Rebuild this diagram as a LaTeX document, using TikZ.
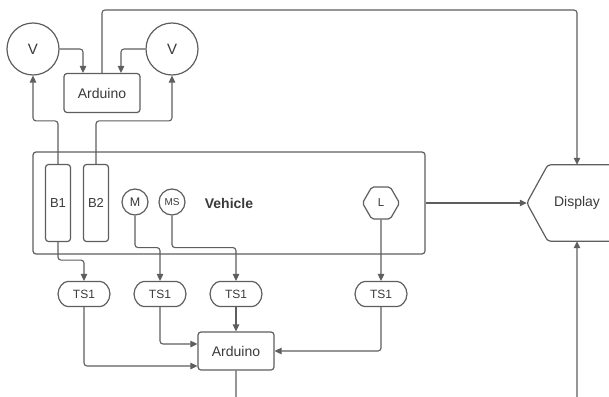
\documentclass[tikz,border=0pt]{standalone}
\usepackage{fontspec}
\setmainfont{Liberation Sans}
\usepackage{xcolor}
\usetikzlibrary{arrows.meta,positioning,shapes.geometric,shapes.misc}
\definecolor{cLine}{HTML}{5E5E5E}
\definecolor{cInk}{HTML}{3A3A3A}
\tikzset{
  edge/.style={draw=cLine,line width=1.2pt,rounded corners=3pt},
  blk/.style={edge,fill=white,text=cInk,align=center,inner sep=0pt,font=\fontsize{14}{16}\selectfont},
  batt/.style={blk,minimum width=25,minimum height=77,font=\fontsize{13}{15}\selectfont},
  meter/.style={edge,circle,fill=white,text=cInk,inner sep=0pt,minimum size=52,font=\fontsize{15}{17}\selectfont},
  lamp/.style={edge,regular polygon,regular polygon sides=6,rounded corners=2pt,text=cInk,inner sep=0pt,minimum size=37,font=\fontsize{11.5}{13}\selectfont},
  sens/.style={edge,rounded rectangle,text=cInk,inner sep=0pt,minimum width=52,minimum height=25,font=\fontsize{12}{14}\selectfont},
  disp/.style={text=cInk,inner sep=0pt,minimum width=100,minimum height=76,font=\fontsize{14}{16}\selectfont},
  arr/.style={-{Triangle[length=7pt,width=6.5pt]},draw=cLine,line width=1.1pt,rounded corners=3pt},
}

\begin{document}
\begin{tikzpicture}[x=1pt,y=-1pt]
  \useasboundingbox (0,0) rectangle (609,396);
  % meters and upper Arduino
  \node[meter] (vL) at (33,49) {V};
  \node[meter] (vR) at (172,49) {V};
  \node[blk,minimum width=76,minimum height=39] (ardT) at (102,93) {Arduino};
  % vehicle with its parts
  \node[blk,minimum width=392,minimum height=102,font=\fontsize{14}{16}\selectfont\bfseries] (veh) at (229,203) {Vehicle};
  \node[batt] (b1) at (58,203) {B1};
  \node[batt] (b2) at (96,203) {B2};
  \node[meter,minimum size=26,font=\fontsize{12.5}{14}\selectfont] (mot) at (135,202) {M};
  \node[meter,minimum size=26,font=\fontsize{10}{12}\selectfont] (ms) at (172,202) {MS};
  \node[lamp] (lmp) at (381,203) {L};
  % display
  \node[disp] (disp) at (577,203) {Display};
  \draw[edge] ([xshift=21pt]disp.north west) -- (disp.north east) -- (disp.south east)
    -- ([xshift=21pt]disp.south west) -- (disp.west) -- cycle;
  % sensors and lower Arduino
  \node[sens] (tsa) at (84,294) {TS1};
  \node[sens] (tsb) at (160,294) {TS1};
  \node[sens] (tsc) at (236,294) {TS1};
  \node[sens] (tsd) at (381,294) {TS1};
  \node[blk,minimum width=76,minimum height=38] (ardB) at (236,351) {Arduino};
  \coordinate (topc) at (577,10);

  \draw[arr] (vL.east) -| ([xshift=-19pt]ardT.north);
  \draw[arr] (vR.west) -| ([xshift=19pt]ardT.north);
  \draw[arr] (ardT.north) |- (topc) -- (disp.north);
  \draw[arr] (b1.north) -- ++(0,-43) -| (vL.south);
  \draw[arr] (b2.north) -- ++(0,-43) -| (vR.south);
  \draw[arr] (b1.south) -- ++(0,18) -| (tsa.north);
  \draw[arr] (mot.south) -- ++(0,32) -| (tsb.north);
  \draw[arr] (ms.south) -- ++(0,32) -| (tsc.north);
  \draw[arr] (lmp.south) -- (tsd.north);
  \draw[arr] (tsa.south) |- ([yshift=-15pt]ardB.west);
  \draw[arr] (tsb.south) |- ([yshift=7pt]ardB.west);
  \draw[arr] (tsc.south) -- (ardB.north);
  \draw[arr] (tsd.south) |- (ardB.east);
  \draw[arr] (veh.east) -- (disp.west);
  \draw[arr] (ardB.south) -- ++(0,34) -| (disp.south);
\end{tikzpicture}
\end{document}
